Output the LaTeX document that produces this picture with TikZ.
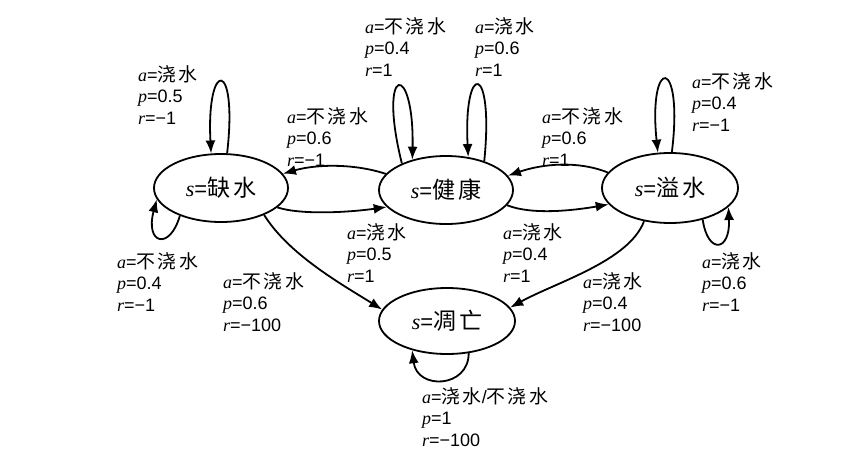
\documentclass[tikz,border=0pt]{standalone}
\usepackage{fontspec}
\setmainfont{Liberation Sans}
\newfontfamily\cjk[LetterSpace=12,Scale=1.05]{Noto Sans CJK SC}
\newfontfamily\tms{Liberation Serif}
\usetikzlibrary{arrows.meta,shapes.geometric}
\newcommand\vv[1]{{\tms\itshape #1}}
\newcommand\cj[1]{{\cjk #1}}
\newcommand\lbl[3]{\vv{a}=#1\\\vv{p}=#2\\\vv{r}=#3}
\tikzset{
  state/.style={draw, ellipse, line width=1.8, inner sep=0, minimum width=134, minimum height=68,
    font=\fontsize{22}{24}\selectfont},
  lab/.style={anchor=north west, inner sep=0, align=left, font=\fontsize{18}{21.5}\selectfont},
  edge/.style={line width=1.8, -{Latex[length=13,width=10]}}
}
\begin{document}
\begin{tikzpicture}[x=1pt,y=-1pt]
\useasboundingbox (0,0) rectangle (865,463);
\node[state] (qs) at (221,188) {\vv{s}=\cj{缺水}};
\node[state] (hk) at (446,190) {\vv{s}=\cj{健康}};
\node[state, minimum width=136, minimum height=70] (yl) at (670,188) {\vv{s}=\cj{溢水}};
\node[state, minimum width=136, minimum height=66] (gw) at (447,321) {\vv{s}=\cj{凋亡}};

% self loops
\draw[edge] (qs.80) .. controls +(11,-96) and +(-5,-94) .. (qs.106);
\draw[edge] (qs.214) .. controls +(-10,35) and +(-12,45) .. (qs.190);
\draw[edge] (hk.149) .. controls +(-25,-100) and +(2,-100) .. (hk.138);
\draw[edge] (hk.37) .. controls +(10,-100) and +(-5,-96) .. (hk.56);
\draw[edge] (yl.87) .. controls +(12,-97) and +(-10,-97) .. (yl.109);
\draw[edge] (yl.-44) .. controls +(5,35) and +(2,45) .. (yl.-18);
\draw[edge] (gw.-56) .. controls +(0,35) and +(5,40) .. (gw.-140);

% transitions
\draw[edge] (hk.165) .. controls +(-30,-10) and +(35,-10) .. (qs.13);
\draw[edge] (qs.-19) .. controls +(25,8) and +(-35,5) .. (hk.196);
\draw[edge] (yl.166) .. controls +(-30,-12) and +(35,-12) .. (hk.13);
\draw[edge] (hk.-14) .. controls +(25,10) and +(-35,6) .. (yl.195);
\draw[edge] (qs.-32) .. controls +(25,40) and +(-40,-25) .. (gw.170);
\draw[edge] (yl.232) .. controls +(-15,40) and +(45,-25) .. (gw.12);

% labels
\node[lab] (l1) at (138,65) {\lbl{\cj{浇水}}{0.5}{−1}};
\node[lab] (l2) at (287,107) {\lbl{\cj{不浇水}}{0.6}{−1}};
\node[lab] (l3) at (365,17) {\lbl{\cj{不浇水}}{0.4}{1}};
\node[lab] (l4) at (475,17) {\lbl{\cj{浇水}}{0.6}{1}};
\node[lab] (l5) at (542,107) {\lbl{\cj{不浇水}}{0.6}{1}};
\node[lab] (l6) at (692,72) {\lbl{\cj{不浇水}}{0.4}{−1}};
\node[lab] (l7) at (117,252) {\lbl{\cj{不浇水}}{0.4}{−1}};
\node[lab] (l8) at (223,272) {\lbl{\cj{不浇水}}{0.6}{−100}};
\node[lab] (l9) at (347,223) {\lbl{\cj{浇水}}{0.5}{1}};
\node[lab] (l10) at (503,223) {\lbl{\cj{浇水}}{0.4}{1}};
\node[lab] (l11) at (702,252) {\lbl{\cj{浇水}}{0.6}{−1}};
\node[lab] (l12) at (583,272) {\lbl{\cj{浇水}}{0.4}{−100}};
\node[lab] (l13) at (422,387) {\lbl{\cj{浇水}/\cj{不浇水}}{1}{−100}};
\end{tikzpicture}
\end{document}
